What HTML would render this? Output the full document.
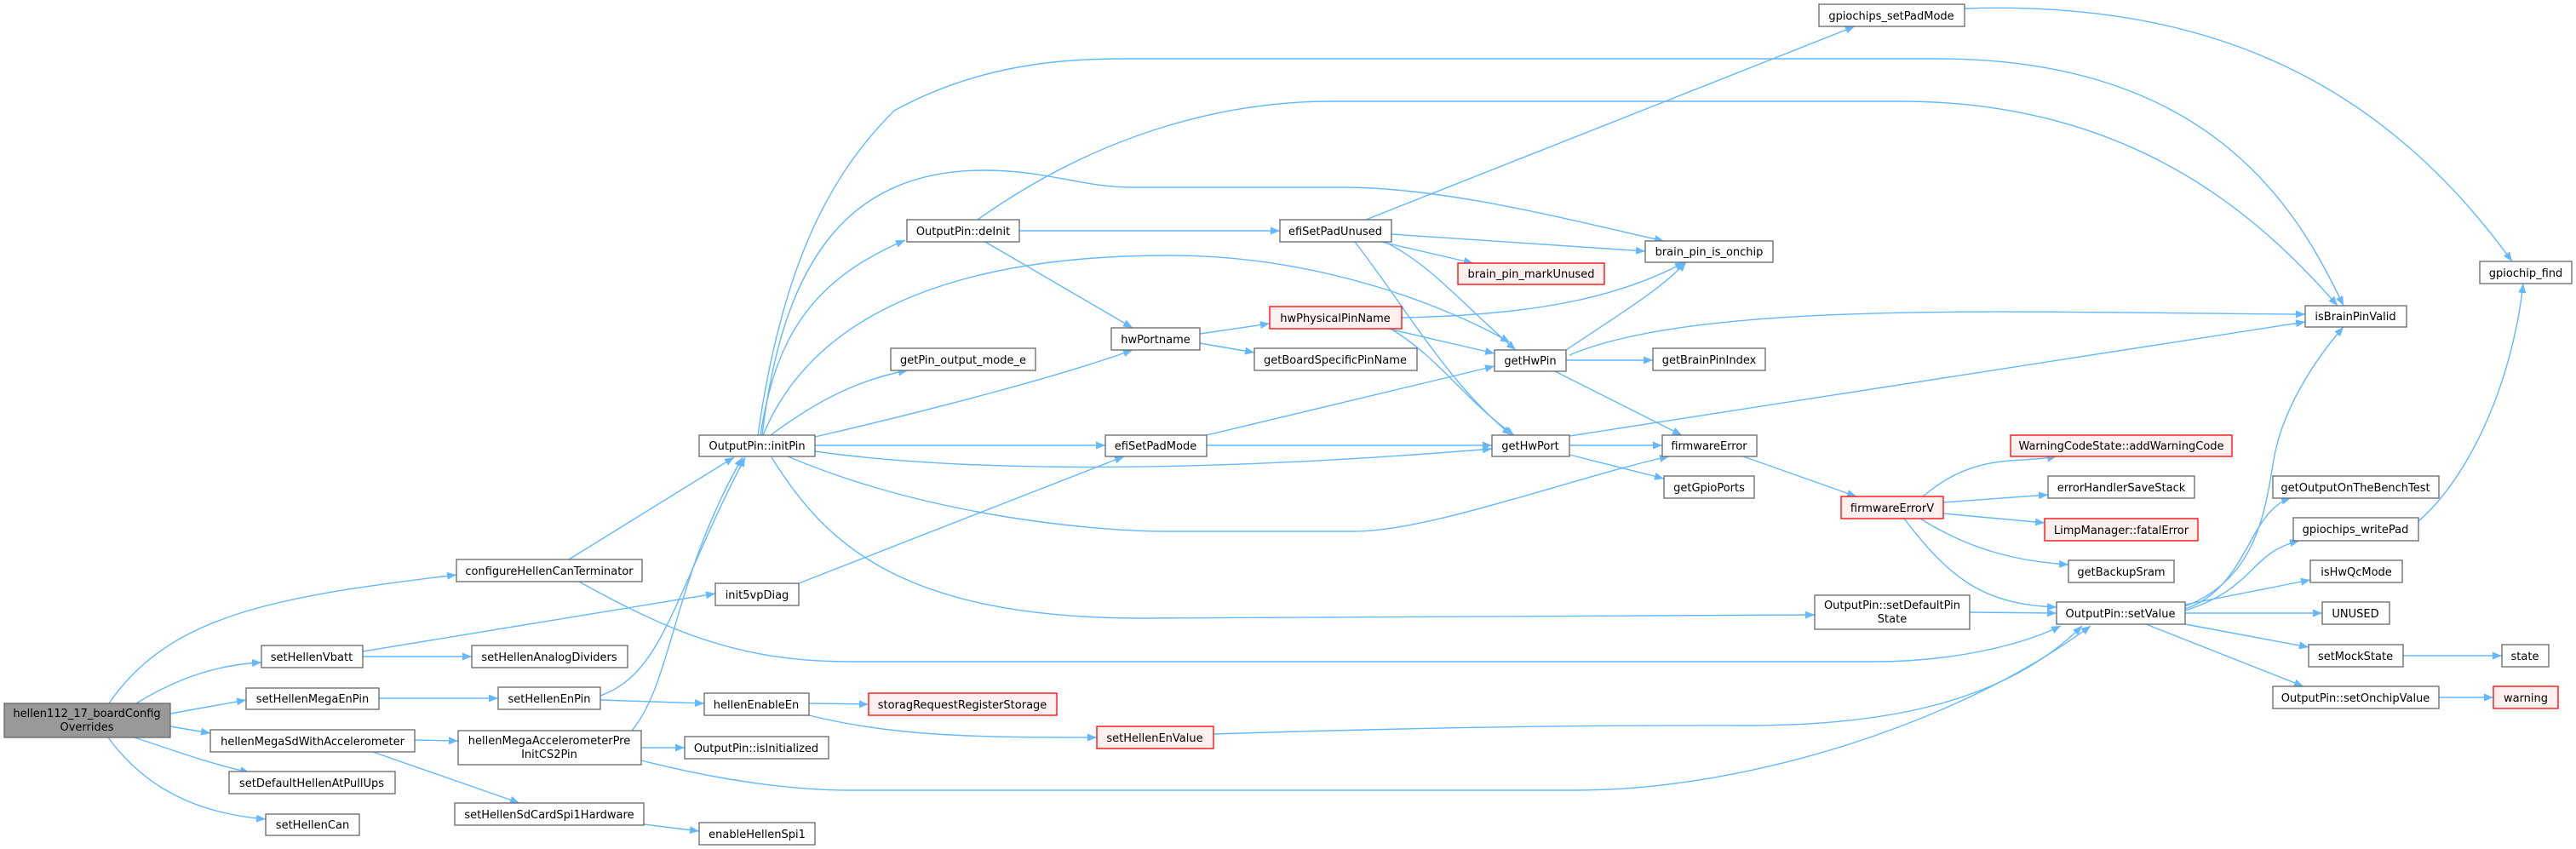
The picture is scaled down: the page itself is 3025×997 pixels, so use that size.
<!DOCTYPE html>
<html><head><meta charset="utf-8"><style>
html,body{margin:0;padding:0;background:#fff;}
svg{display:block;}
text{font-family:"DejaVu Sans","Liberation Sans",sans-serif;font-size:13px;fill:#000;text-anchor:middle;}
.n{fill:#fff;stroke:#666;stroke-width:1.3;}
.r{fill:#fff0f0;stroke:#f00;stroke-width:1.3;}
.g{fill:#999;stroke:#666;stroke-width:1.3;}
path.e{fill:none;stroke:#63b8ff;stroke-width:1.4;marker-end:url(#a);}
</style></head><body>
<svg width="3025" height="997" viewBox="0 0 3025 997" xmlns="http://www.w3.org/2000/svg">
<defs><marker id="a" markerUnits="userSpaceOnUse" markerWidth="12" markerHeight="9" refX="11" refY="4.5" orient="auto"><path d="M0,0 L11,4.5 L0,9 z" fill="#63b8ff"/></marker></defs>

<!-- edges -->
<path class="e" d="M128,826 C200,720 330,700 536,675"/>
<path class="e" d="M160,826 C210,795 260,780 307,778"/>
<path class="e" d="M200,838 L289,822"/>
<path class="e" d="M200,853 L247,861"/>
<path class="e" d="M158,866 C200,880 250,898 293,907"/>
<path class="e" d="M127,866 C170,925 230,955 312,962"/>
<path class="e" d="M426,765 L840,697"/>
<path class="e" d="M426,771 L554,771"/>
<path class="e" d="M445,820 L585,820"/>
<path class="e" d="M705,817 C780,790 790,700 875,537"/>
<path class="e" d="M705,822 L827,826"/>
<path class="e" d="M742,858 C790,800 790,680 872,537"/>
<path class="e" d="M668,657 L862,537"/>
<path class="e" d="M680,683 C800,750 880,777 1000,777 L2200,777 C2300,777 2380,755 2420,735"/>
<path class="e" d="M753,893 C800,905 900,928 1000,928 L1850,928 C2050,928 2300,850 2455,735"/>
<path class="e" d="M753,878 L804,878"/>
<path class="e" d="M487,869 L538,870"/>
<path class="e" d="M438,883 C500,905 560,925 610,943"/>
<path class="e" d="M756,968 L821,976"/>
<path class="e" d="M950,826 L1020,827"/>
<path class="e" d="M950,840 C1050,865 1150,866 1288,866"/>
<path class="e" d="M1425,862 C1800,850 2000,852 2050,852 C2200,852 2350,830 2445,735"/>
<path class="e" d="M938,685 L1320,536"/>
<!-- initPin -->
<path class="e" d="M906,537 C970,640 1060,726 1343,726 L2131,722"/>
<path class="e" d="M905,511 C960,470 1010,445 1066,435"/>
<path class="e" d="M957,513 C1100,480 1250,440 1330,411"/>
<path class="e" d="M957,523 L1298,523"/>
<path class="e" d="M957,530 C1100,550 1350,560 1752,527"/>
<path class="e" d="M925,536 C1100,610 1300,624 1370,624 L1590,624 C1680,624 1850,560 1960,536"/>
<path class="e" d="M896,511 C950,380 1100,300 1373,300 C1550,300 1700,360 1773,402"/>
<path class="e" d="M893,511 C910,400 950,330 1063,282"/>
<path class="e" d="M895,511 C920,300 1000,200 1156,200 C1230,200 1270,220 1331,220 L1577,220 C1700,220 1850,260 1954,283"/>
<path class="e" d="M890,511 C920,300 980,200 1050,130 C1150,75 1250,69 1317,69 L2275,69 C2600,69 2700,250 2752,359"/>
<!-- deInit -->
<path class="e" d="M1148,258 C1300,150 1450,119 1563,119 L2232,119 C2500,119 2650,250 2745,359"/>
<path class="e" d="M1197,271 L1503,271"/>
<path class="e" d="M1157,284 L1330,385"/>
<!-- efiSetPadUnused -->
<path class="e" d="M1604,258 L2178,31"/>
<path class="e" d="M1634,275 L1932,295"/>
<path class="e" d="M1622,284 L1730,309"/>
<path class="e" d="M1626,284 C1680,310 1720,360 1780,411"/>
<path class="e" d="M1591,284 C1650,360 1700,450 1775,511"/>
<!-- hwPhysicalPinName -->
<path class="e" d="M1646,373 C1800,370 1900,350 1978,308"/>
<path class="e" d="M1630,386 L1755,415"/>
<path class="e" d="M1633,386 C1690,420 1720,470 1778,511"/>
<path class="e" d="M1409,392 L1491,380"/>
<path class="e" d="M1409,403 L1473,414"/>
<!-- efiSetPadMode -->
<path class="e" d="M1417,511 L1755,430"/>
<path class="e" d="M1417,523 L1752,523"/>
<!-- getHwPin -->
<path class="e" d="M1839,411 C1900,370 1950,340 1980,308"/>
<path class="e" d="M1843,417 C2000,350 2400,368 2707,369"/>
<path class="e" d="M1839,423 L1941,423"/>
<path class="e" d="M1826,436 L1975,511"/>
<!-- getHwPort -->
<path class="e" d="M1843,512 L2707,378"/>
<path class="e" d="M1843,523 L1952,523"/>
<path class="e" d="M1843,534 L1954,562"/>
<path class="e" d="M2047,536 L2180,583"/>
<!-- firmwareErrorV -->
<path class="e" d="M2258,583 C2320,530 2370,545 2415,536"/>
<path class="e" d="M2282,590 L2405,581"/>
<path class="e" d="M2282,603 L2401,614"/>
<path class="e" d="M2255,609 C2320,650 2380,660 2429,663"/>
<path class="e" d="M2236,609 C2290,680 2330,710 2415,713"/>
<path class="e" d="M2313,719 L2415,720"/>
<!-- setValue -->
<path class="e" d="M2566,712 C2650,680 2660,600 2670,540 C2680,480 2720,420 2752,384"/>
<path class="e" d="M2566,715 C2640,690 2640,600 2690,585"/>
<path class="e" d="M2566,717 C2650,690 2640,650 2700,635"/>
<path class="e" d="M2566,710 L2713,681"/>
<path class="e" d="M2566,720 L2727,720"/>
<path class="e" d="M2566,733 L2711,760"/>
<path class="e" d="M2520,733 L2705,806"/>
<path class="e" d="M2840,612 C2900,560 2950,450 2963,333"/>
<path class="e" d="M2307,10 C2600,0 2800,100 2950,307"/>
<path class="e" d="M2822,770 L2938,770"/>
<path class="e" d="M2864,819 L2928,819"/>

<!-- nodes -->
<rect class="g" x="5" y="826" width="195" height="40"/><text x="102" y="842">hellen112_17_boardConfig</text><text x="102" y="858">Overrides</text>
<rect class="n" x="536" y="657" width="218" height="26"/><text x="645" y="675">configureHellenCanTerminator</text>
<rect class="n" x="840" y="685" width="98" height="26"/><text x="889" y="703">init5vpDiag</text>
<rect class="n" x="307" y="758" width="119" height="26"/><text x="366" y="776">setHellenVbatt</text>
<rect class="n" x="554" y="758" width="183" height="26"/><text x="645" y="776">setHellenAnalogDividers</text>
<rect class="n" x="289" y="808" width="156" height="25"/><text x="367" y="825">setHellenMegaEnPin</text>
<rect class="n" x="585" y="807" width="120" height="26"/><text x="645" y="825">setHellenEnPin</text>
<rect class="n" x="827" y="814" width="123" height="26"/><text x="888" y="832">hellenEnableEn</text>
<rect class="n" x="247" y="857" width="240" height="26"/><text x="367" y="875">hellenMegaSdWithAccelerometer</text>
<rect class="n" x="538" y="858" width="215" height="40"/><text x="645" y="874">hellenMegaAccelerometerPre</text><text x="645" y="890">InitCS2Pin</text>
<rect class="n" x="804" y="865" width="169" height="26"/><text x="888" y="883">OutputPin::isInitialized</text>
<rect class="n" x="269" y="906" width="195" height="26"/><text x="366" y="924">setDefaultHellenAtPullUps</text>
<rect class="n" x="312" y="956" width="110" height="25"/><text x="367" y="973">setHellenCan</text>
<rect class="n" x="534" y="943" width="222" height="26"/><text x="645" y="961">setHellenSdCardSpi1Hardware</text>
<rect class="n" x="821" y="966" width="136" height="26"/><text x="889" y="984">enableHellenSpi1</text>
<rect class="n" x="821" y="511" width="136" height="25"/><text x="889" y="528">OutputPin::initPin</text>
<rect class="r" x="1020" y="814" width="221" height="26"/><text x="1130" y="832">storagRequestRegisterStorage</text>
<rect class="r" x="1288" y="853" width="137" height="26"/><text x="1356" y="871">setHellenEnValue</text>
<rect class="n" x="1065" y="258" width="132" height="26"/><text x="1131" y="276">OutputPin::deInit</text>
<rect class="n" x="1503" y="258" width="131" height="26"/><text x="1568" y="276">efiSetPadUnused</text>
<rect class="r" x="1712" y="309" width="172" height="25"/><text x="1798" y="326">brain_pin_markUnused</text>
<rect class="r" x="1491" y="360" width="155" height="26"/><text x="1568" y="378">hwPhysicalPinName</text>
<rect class="n" x="1305" y="385" width="104" height="26"/><text x="1357" y="403">hwPortname</text>
<rect class="n" x="1473" y="409" width="191" height="26"/><text x="1568" y="427">getBoardSpecificPinName</text>
<rect class="n" x="1046" y="409" width="170" height="26"/><text x="1131" y="427">getPin_output_mode_e</text>
<rect class="n" x="1298" y="511" width="119" height="25"/><text x="1357" y="528">efiSetPadMode</text>
<rect class="n" x="1755" y="411" width="84" height="25"/><text x="1797" y="428">getHwPin</text>
<rect class="n" x="1752" y="511" width="91" height="25"/><text x="1797" y="528">getHwPort</text>
<rect class="n" x="2136" y="5" width="171" height="26"/><text x="2221" y="23">gpiochips_setPadMode</text>
<rect class="n" x="1932" y="283" width="150" height="25"/><text x="2007" y="300">brain_pin_is_onchip</text>
<rect class="n" x="1941" y="409" width="132" height="26"/><text x="2007" y="427">getBrainPinIndex</text>
<rect class="n" x="2707" y="359" width="119" height="25"/><text x="2766" y="376">isBrainPinValid</text>
<rect class="n" x="2912" y="307" width="108" height="26"/><text x="2966" y="325">gpiochip_find</text>
<rect class="n" x="1952" y="511" width="111" height="25"/><text x="2007" y="528">firmwareError</text>
<rect class="n" x="1954" y="559" width="106" height="26"/><text x="2007" y="577">getGpioPorts</text>
<rect class="r" x="2361" y="511" width="260" height="25"/><text x="2491" y="528">WarningCodeState::addWarningCode</text>
<rect class="n" x="2405" y="559" width="172" height="26"/><text x="2491" y="577">errorHandlerSaveStack</text>
<rect class="r" x="2162" y="583" width="120" height="26"/><text x="2222" y="601">firmwareErrorV</text>
<rect class="r" x="2401" y="609" width="180" height="26"/><text x="2491" y="627">LimpManager::fatalError</text>
<rect class="n" x="2429" y="658" width="124" height="26"/><text x="2491" y="676">getBackupSram</text>
<rect class="n" x="2131" y="699" width="182" height="40"/><text x="2222" y="715">OutputPin::setDefaultPin</text><text x="2222" y="731">State</text>
<rect class="n" x="2415" y="707" width="151" height="26"/><text x="2490" y="725">OutputPin::setValue</text>
<rect class="n" x="2669" y="559" width="195" height="26"/><text x="2766" y="577">getOutputOnTheBenchTest</text>
<rect class="n" x="2693" y="608" width="147" height="27"/><text x="2766" y="626">gpiochips_writePad</text>
<rect class="n" x="2713" y="658" width="108" height="26"/><text x="2767" y="676">isHwQcMode</text>
<rect class="n" x="2727" y="707" width="79" height="26"/><text x="2766" y="725">UNUSED</text>
<rect class="n" x="2711" y="757" width="111" height="26"/><text x="2766" y="775">setMockState</text>
<rect class="n" x="2938" y="757" width="55" height="26"/><text x="2965" y="775">state</text>
<rect class="n" x="2669" y="806" width="195" height="26"/><text x="2766" y="824">OutputPin::setOnchipValue</text>
<rect class="r" x="2928" y="806" width="76" height="26"/><text x="2966" y="824">warning</text>
</svg>
</body></html>
